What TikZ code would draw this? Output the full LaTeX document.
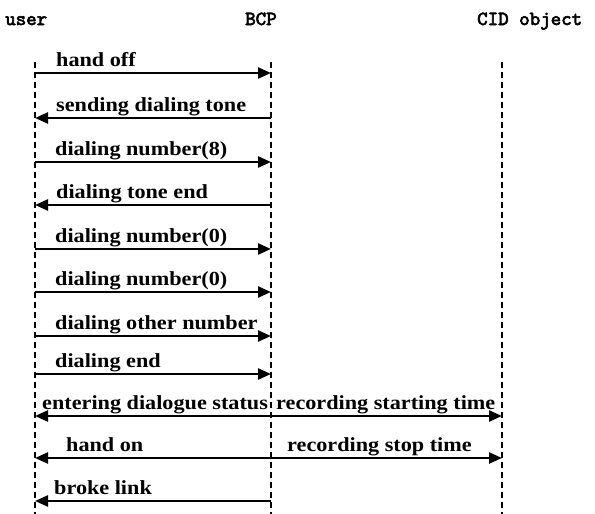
\documentclass[tikz,border=0pt]{standalone}
\usepackage{fontspec}
\setmainfont{Liberation Serif}
\newfontfamily\labfont[FakeStretch=1.11]{Liberation Serif}
\newfontfamily\headfont[Extension=.otf,FakeBold=3]{lmmono10-regular}
\usetikzlibrary{arrows.meta}
\begin{document}
\begin{tikzpicture}[x=1pt,y=-1pt,
  life/.style={line width=1.4pt, dash pattern=on 6pt off 4pt},
  msg/.style={line width=2.4pt, -{Triangle[length=13pt,width=11pt]}},
  lbl/.style={font=\labfont\bfseries\fontsize{20}{24}\selectfont, anchor=base west, inner sep=0pt},
  head/.style={font=\headfont\fontsize{20}{22}\selectfont, anchor=base west, inner sep=0pt}]
\useasboundingbox (0,0) rectangle (595,514);
% headers
\node[head] (hu) at (5,25) {user};
\node[head] (hb) at (245,25) {BCP};
\node[head] (hc) at (477,25) {CID object};
% lifelines
\coordinate (ut) at (35,62);  \coordinate (ub) at (35,514);
\coordinate (bt) at (271,62); \coordinate (bb) at (271,514);
\coordinate (ct) at (502,62); \coordinate (cb) at (502,514);
\draw[life] (ut) -- (ub);
\draw[life] (bt) -- (bb);
\draw[life] (ct) -- (cb);
% message anchor points
\foreach \i/\y in {1/73,2/118,3/162,4/205,5/249,6/292,7/336,8/374,9/416,10/458,11/501}{
  \coordinate (u\i) at (35,\y);
  \coordinate (b\i) at (271,\y);
  \coordinate (c\i) at (502,\y);
}
% messages
\draw[msg] (u1) -- (b1);
\draw[msg] (b2) -- (u2);
\draw[msg] (u3) -- (b3);
\draw[msg] (b4) -- (u4);
\draw[msg] (u5) -- (b5);
\draw[msg] (u6) -- (b6);
\draw[msg] (u7) -- (b7);
\draw[msg] (u8) -- (b8);
\draw[msg] (b9) -- (u9);
\draw[msg] (b9) -- (c9);
\draw[msg] (b10) -- (u10);
\draw[msg] (b10) -- (c10);
\draw[msg] (b11) -- (u11);
% labels
\node[lbl] (l1) at (56,66) {hand off};
\node[lbl] (l2) at (56,111) {sending dialing tone};
\node[lbl] (l3) at (55,155) {dialing number(8)};
\node[lbl] (l4) at (56,198) {dialing tone end};
\node[lbl] (l5) at (55,242) {dialing number(0)};
\node[lbl] (l6) at (55,285) {dialing number(0)};
\node[lbl] (l7) at (55,329) {dialing other number};
\node[lbl] (l8) at (55,367) {dialing end};
\node[lbl] (l9) at (42,409) {entering dialogue status};
\node[lbl] (l9b) at (276,409) {recording starting time};
\node[lbl] (l10) at (66,451) {hand on};
\node[lbl] (l10b) at (287,451) {recording stop time};
\node[lbl] (l11) at (54,494) {broke link};
\end{tikzpicture}
\end{document}
